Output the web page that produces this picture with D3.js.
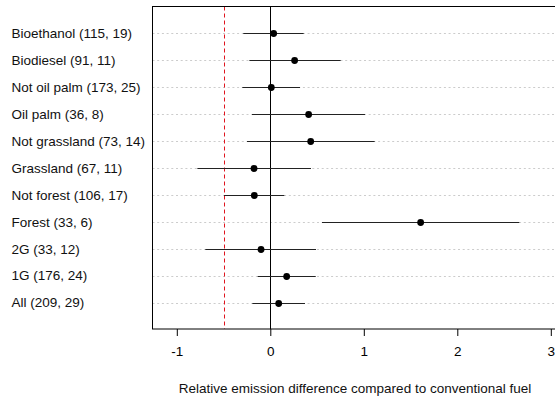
<!DOCTYPE html>
<html><head><meta charset="utf-8">
<script src="https://cdn.jsdelivr.net/npm/d3@7"></script>
<style>body{margin:0;background:#fff}svg{display:block}text{font-family:"Liberation Sans",Arial,Helvetica,sans-serif}</style>
</head><body><svg id="c" width="555" height="398"></svg>
<script>
const labels = ["Bioethanol (115, 19)","Biodiesel (91, 11)","Not oil palm (173, 25)","Oil palm (36, 8)","Not grassland (73, 14)","Grassland (67, 11)","Not forest (106, 17)","Forest (33, 6)","2G (33, 12)","1G (176, 24)","All (209, 29)"];
const estimates = [0.036,0.26,0.011,0.41,0.432,-0.174,-0.171,1.608,-0.099,0.175,0.09];
const lower = [-0.289,-0.224,-0.299,-0.196,-0.249,-0.78,-0.495,0.553,-0.695,-0.135,-0.192];
const upper = [0.357,0.753,0.318,1.013,1.116,0.435,0.15,2.663,0.489,0.486,0.371];
const xTicks = [-1,0,1,2,3];
const refLine = -0.5;
const xTitle = "Relative emission difference compared to conventional fuel";

(function(){
const svg = d3.select("#c");
const pL = 152.5, pT = 6.5, pB = 329, pR = 600;
const x = d3.scaleLinear().domain([0,1]).range([270.3, 363.8]);
const y = d3.scalePoint().domain(labels).range([33.3, 302.7]);

// grid
svg.append("g").selectAll("line").data(labels).join("line")
  .attr("x1", pL).attr("x2", 555).attr("y1", d=>Math.round(y(d))+0.5).attr("y2", d=>Math.round(y(d))+0.5)
  .attr("stroke","#cccccc").attr("stroke-width",1).attr("stroke-dasharray","2,2.7");

// zero line
svg.append("line").attr("x1", Math.round(x(0))+0.5).attr("x2", Math.round(x(0))+0.5)
  .attr("y1", pT).attr("y2", pB).attr("stroke","#000").attr("stroke-width",1);
// reference dashed
svg.append("line").attr("x1", Math.round(x(refLine))+0.5).attr("x2", Math.round(x(refLine))+0.5)
  .attr("y1", pT).attr("y2", pB).attr("stroke","#e0141e").attr("stroke-width",1).attr("stroke-dasharray","4,3");

// error bars
svg.append("g").selectAll("line").data(labels).join("line")
  .attr("x1",(d,i)=>x(lower[i])).attr("x2",(d,i)=>x(upper[i]))
  .attr("y1", d=>Math.round(y(d))+0.5).attr("y2", d=>Math.round(y(d))+0.5)
  .attr("stroke","#222").attr("stroke-width",1.1);
svg.append("g").selectAll("circle").data(labels).join("circle")
  .attr("cx",(d,i)=>x(estimates[i])).attr("cy", d=>Math.round(y(d))+0.5).attr("r",3.4).attr("fill","#000");

// box
svg.append("rect").attr("x",pL).attr("y",pT).attr("width",pR-pL).attr("height",pB-pT)
  .attr("fill","none").attr("stroke","#000").attr("stroke-width",1);

// axis
const ax = svg.append("g").attr("transform",`translate(0,${pB})`)
  .call(d3.axisBottom(x).tickValues(xTicks).tickFormat(d=>String(d)).tickSize(7).tickPadding(10).tickSizeOuter(0));
ax.select(".domain").remove();
ax.selectAll("text").attr("font-size","13.5px").attr("fill","#000").attr("font-family","Liberation Sans, Arial, sans-serif");

// labels
svg.append("g").selectAll("text").data(labels).join("text")
  .attr("x",11.5).attr("y",d=>y(d)).attr("dy","0.35em").attr("font-size","13.5px").attr("fill","#111").text(d=>d);

svg.append("text").attr("x",(178+532)/2).attr("y",388).attr("dy","0.35em").attr("text-anchor","middle")
  .attr("font-size","13.5px").attr("fill","#111").text(xTitle);
})();
</script></body></html>
